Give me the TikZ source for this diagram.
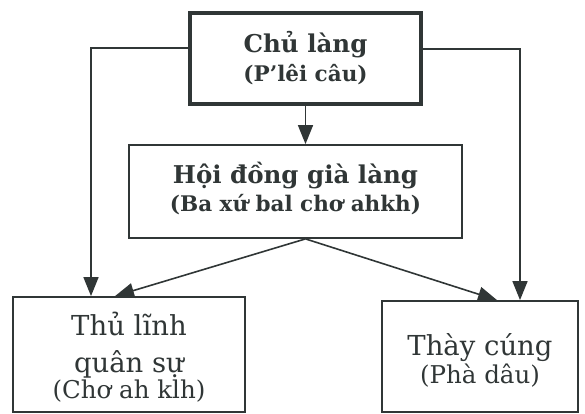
\documentclass[tikz,border=0pt]{standalone}
\usepackage{fontspec}
\setmainfont{DejaVu Serif}
\usepackage{tikz}
\usetikzlibrary{arrows.meta, positioning, calc}
\definecolor{ink}{HTML}{303636}

\begin{document}
\begin{tikzpicture}[
  x=1pt, y=-1pt,
  box/.style={rectangle, draw=ink, line width=1.8pt, inner sep=0pt},
  headtxt/.style={font=\bfseries\fontsize{24.5}{26}\selectfont, text=ink, anchor=base},
  headsub/.style={font=\bfseries\fontsize{21.5}{23}\selectfont, text=ink, anchor=base},
  roletxt/.style={font=\fontsize{27.5}{29}\selectfont, text=ink, anchor=base},
  rolesub/.style={font=\fontsize{24.5}{26}\selectfont, text=ink, anchor=base},
  arr/.style={draw=ink, line width=1.6pt, -{Triangle[length=19pt, width=15pt]}}
]
  \useasboundingbox (0,0) rectangle (585,414);

  % boxes
  \node[box, line width=4.5pt, minimum width=231pt, minimum height=91pt] (chu) at (305.5,58.5) {};
  \node[headtxt] (chuT) at ([yshift=5.5pt]chu.center) {Chủ làng};
  \node[headsub] (chuS) at ([yshift=-23.5pt]chu.center) {(P’lêi câu)};

  \node[box, minimum width=333pt, minimum height=93pt] (hoi) at (295.5,191.5) {};
  \node[headtxt] (hoiT) at ([yshift=8.5pt]hoi.center) {Hội đồng già làng};
  \node[headsub] (hoiS) at ([yshift=-19.5pt]hoi.center) {(Ba xứ bal chơ ahkh)};

  \node[box, minimum width=232pt, minimum height=115pt] (thulinh) at (129,354.5) {};
  \node[roletxt] (thuT) at ([yshift=19.5pt]thulinh.center) {Thủ lĩnh};
  \node[roletxt] (thuM) at ([yshift=-17.5pt]thulinh.center) {quân sự};
  \node[rolesub] (thuS) at ([yshift=-43.5pt]thulinh.center) {(Chơ ah klh)};

  \node[box, minimum width=196pt, minimum height=111pt] (thay) at (480,356.5) {};
  \node[roletxt] (thayT) at ([yshift=1.5pt]thay.center) {Thày cúng};
  \node[rolesub] (thayS) at ([yshift=-26.5pt]thay.center) {(Phà dâu)};

  % connectors
  \coordinate (fork) at (chu.south |- hoi.south);
  \draw[arr] (chu.south) -- (chu.south |- hoi.north);
  \draw[arr] ([yshift=10.5pt]chu.west) -| ([xshift=-38pt]thulinh.north);
  \draw[arr] ([yshift=9.5pt]chu.east) -| ([xshift=40pt]thay.north);
  \draw[arr] (fork) -- ([xshift=-14pt]thulinh.north);
  \draw[arr] (fork) -- ([xshift=17pt]thay.north);
\end{tikzpicture}
\end{document}
